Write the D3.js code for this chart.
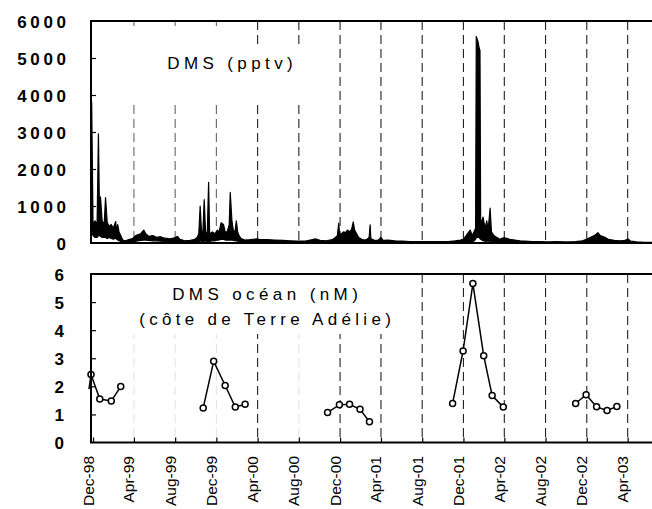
<!DOCTYPE html>
<html><head><meta charset="utf-8">
<script src="https://cdn.jsdelivr.net/npm/d3@7"></script>
<style>body{margin:0;background:#fff}svg{display:block;font-family:"Liberation Sans",Arial,sans-serif}</style>
</head><body>
<svg id="c" width="652" height="509"></svg>
<script>
// ---------- data ----------
const tickLabels = ["Dec-98","Apr-99","Aug-99","Dec-99","Apr-00","Aug-00","Dec-00","Apr-01","Aug-01","Dec-01","Apr-02","Aug-02","Dec-02","Apr-03"];
const tickDates = ["1998-12-01","1999-04-01","1999-08-01","1999-12-01","2000-04-01","2000-08-01","2000-12-01","2001-04-01","2001-08-01","2001-12-01","2002-04-01","2002-08-01","2002-12-01","2003-04-01"];
const airTicks = [0,1000,2000,3000,4000,5000,6000];
const oceanTicks = [0,1,2,3,4,5,6];

// atmospheric DMS (pptv): dense record, given as upper / lower envelope
const airDates = ["1998-11-27","1998-12-01","1998-12-07","1998-12-13","1998-12-17","1998-12-20","1998-12-23","1998-12-28","1999-01-03","1999-01-07","1999-01-12","1999-01-18","1999-01-24","1999-01-30","1999-02-06","1999-02-09","1999-02-12","1999-02-16","1999-02-21","1999-02-27","1999-03-07","1999-03-19","1999-03-28","1999-04-06","1999-04-12","1999-04-21","1999-04-30","1999-05-06","1999-05-15","1999-05-27","1999-06-08","1999-06-19","1999-07-01","1999-07-16","1999-07-28","1999-08-08","1999-08-15","1999-08-30","1999-09-14","1999-09-26","1999-10-05","1999-10-10","1999-10-14","1999-10-18","1999-10-22","1999-10-26","1999-10-30","1999-11-04","1999-11-08","1999-11-11","1999-11-19","1999-11-27","1999-12-04","1999-12-09","1999-12-15","1999-12-22","1999-12-27","2000-01-02","2000-01-08","2000-01-11","2000-01-16","2000-01-20","2000-01-25","2000-01-29","2000-02-02","2000-02-06","2000-02-12","2000-02-24","2000-03-09","2000-03-29","2000-04-08","2000-04-29","2000-05-22","2000-06-15","2000-07-06","2000-07-29","2000-08-20","2000-09-04","2000-09-19","2000-10-03","2000-10-21","2000-11-08","2000-11-17","2000-11-23","2000-11-27","2000-11-30","2000-12-05","2000-12-11","2000-12-17","2000-12-23","2000-12-29","2001-01-04","2001-01-09","2001-01-13","2001-01-19","2001-01-25","2001-02-03","2001-02-11","2001-02-19","2001-02-25","2001-02-28","2001-03-02","2001-03-11","2001-03-23","2001-04-01","2001-04-07","2001-04-22","2001-05-12","2001-06-02","2001-06-26","2001-07-25","2001-08-25","2001-09-23","2001-10-17","2001-11-07","2001-11-22","2001-12-01","2001-12-09","2001-12-21","2001-12-27","2002-01-01","2002-01-06","2002-01-08","2002-01-13","2002-01-16","2002-01-19","2002-01-21","2002-01-28","2002-02-03","2002-02-08","2002-02-12","2002-02-18","2002-02-22","2002-03-01","2002-03-10","2002-03-19","2002-03-29","2002-04-06","2002-04-17","2002-05-02","2002-05-17","2002-06-01","2002-06-22","2002-07-15","2002-08-09","2002-09-02","2002-09-28","2002-10-28","2002-11-18","2002-11-30","2002-12-11","2002-12-23","2003-01-03","2003-01-10","2003-01-22","2003-02-03","2003-02-20","2003-03-09","2003-03-24","2003-04-02","2003-04-10","2003-04-28","2003-05-22","2003-06-12"];
const airHigh = [3800,500,600,500,2950,900,1250,600,500,1230,550,450,500,400,580,300,500,300,200,80,60,100,120,200,220,250,350,250,180,200,150,170,130,110,130,180,100,60,70,90,150,250,1000,300,300,1170,300,250,1640,250,300,250,350,300,550,500,300,300,500,1370,600,350,300,600,300,200,120,80,90,110,90,90,80,70,60,50,50,80,110,70,60,90,150,200,535,200,250,300,280,350,300,370,570,350,250,150,100,80,100,150,490,120,80,70,150,70,80,60,50,40,40,35,40,40,60,80,100,200,350,200,300,400,5580,5450,5300,5200,500,700,400,600,350,940,300,200,150,100,140,130,100,80,60,50,40,35,30,35,30,40,60,100,150,200,280,200,160,100,70,60,70,110,50,30,20,20];
const airLow = [300,200,150,150,200,200,180,150,150,150,120,150,120,100,130,100,80,60,40,20,10,20,30,40,60,70,80,80,70,60,60,50,40,30,30,20,20,15,15,20,30,40,50,50,40,50,50,40,50,40,60,60,80,80,100,100,80,80,80,80,80,70,60,60,50,40,30,25,30,30,30,30,25,25,20,15,15,20,20,20,20,20,25,30,30,30,30,40,40,40,40,40,40,40,30,30,25,25,25,25,25,20,20,20,20,20,20,15,15,10,10,10,10,15,20,30,30,30,40,40,50,100,150,150,150,120,100,60,50,50,50,50,40,40,30,30,30,30,25,20,20,15,10,10,10,10,10,10,15,20,20,25,25,25,20,15,15,15,15,15,10,10,5,5];

// ocean DMS (nM), null = gap between summer campaigns
const oceanDates = ["1998-11-19","1998-11-25","1998-12-21","1999-01-24","1999-02-21",null,"1999-10-23","1999-11-23","1999-12-27","2000-01-26","2000-02-24",null,"2000-10-25","2000-11-29","2000-12-29","2001-01-29","2001-02-26",null,"2001-10-30","2001-11-30","2001-12-29","2002-01-30","2002-02-24","2002-03-29",null,"2002-10-29","2002-11-29","2002-12-30","2003-01-30","2003-02-28"];
const oceanValues = [1.9,2.42,1.55,1.48,1.99,null,1.23,2.89,2.03,1.26,1.36,null,1.07,1.34,1.36,1.18,0.74,null,1.39,3.26,5.66,3.09,1.67,1.26,null,1.39,1.70,1.27,1.14,1.28];

// ---------- drawing ----------
const parse = d3.utcParse("%Y-%m-%d");
const svg = d3.select("#c");
const x0 = parse("1998-11-25");
const x = d3.scaleUtc().domain([x0, parse("2003-06-12")]).range([91, 652]);
const yA = d3.scaleLinear().domain([0, 6000]).range([243, 21]);
const yO = d3.scaleLinear().domain([0, 6]).range([442.5, 274]);
const tickD = tickDates.map(parse);
const W = 652;

// ===== top panel =====
const gTop = svg.append("g");
gTop.selectAll("line.g").data(tickD.slice(1)).join("line")
  .attr("x1", d => x(d)).attr("x2", d => x(d))
  .attr("y1", yA(6000)).attr("y2", yA(0))
  .attr("stroke", (d, i) => i < 3 ? "#666" : "#222").attr("stroke-width", 1.1)
  .attr("stroke-dasharray", "9,5");
gTop.append("rect").attr("x", 128).attr("y", 26).attr("width", 126).attr("height", 74).attr("fill", "#fff");
gTop.append("rect").attr("x", 128).attr("y", 44).attr("width", 174).attr("height", 56).attr("fill", "#fff");
gTop.append("text").attr("x", 230 + 2.2).attr("y", 68.5).attr("text-anchor", "middle")
  .style("font-size", "17px").style("letter-spacing", "4.4px").text("DMS (pptv)");

const airData = airDates.map((d, i) => ({date: parse(d), high: airHigh[i], low: airLow[i]}));
gTop.append("path").datum(airData)
  .attr("d", d3.area().x(d => x(d.date)).y0(d => yA(d.low)).y1(d => yA(d.high)))
  .attr("fill", "#000").attr("stroke", "#000").attr("stroke-width", 1.2).attr("stroke-linejoin", "round");

gTop.append("path").attr("d", `M${W + 2},${yA(6000)}H${x.range()[0]}V${yA(0)}H${W + 2}`)
  .attr("fill", "none").attr("stroke", "#000").attr("stroke-width", 2);
const tA = gTop.append("g").attr("transform", `translate(${x.range()[0]},0)`)
  .call(d3.axisRight(yA).tickValues(airTicks.slice(1, -1)).tickSize(5).tickFormat(""));
tA.select(".domain").remove();
tA.selectAll("line").attr("stroke", "#000").attr("stroke-width", 1.2);
const lA = gTop.append("g").attr("transform", `translate(${x.range()[0]},0)`)
  .call(d3.axisLeft(yA).tickValues(airTicks).tickSize(0).tickPadding(21.5).tickFormat(d3.format("d")));
lA.select(".domain").remove();
lA.selectAll("text").attr("fill", "#000").attr("font-family", null)
  .style("font-size", "17px").style("font-weight", "bold").style("letter-spacing", "3.6px").attr("dy", "0.36em");

// ===== bottom panel =====
const gBot = svg.append("g");
const faint = new Set(["Apr-99", "Aug-99", "Dec-99", "Aug-00"]);
gBot.selectAll("line.g").data(tickD.slice(1)).join("line")
  .attr("x1", d => x(d)).attr("x2", d => x(d))
  .attr("y1", yO(6)).attr("y2", yO(0))
  .attr("stroke", (d, i) => faint.has(tickLabels[i + 1]) ? "#e4e4e4" : "#222").attr("stroke-width", 1.1)
  .attr("stroke-dasharray", "9,5");
gBot.append("rect").attr("x", 128).attr("y", 275).attr("width", 274).attr("height", 59).attr("fill", "#fff");
gBot.append("text").attr("x", 265 + 2.2).attr("y", 299.5).attr("text-anchor", "middle")
  .style("font-size", "17px").style("letter-spacing", "4.4px").text("DMS océan (nM)");
gBot.append("text").attr("x", 265 + 2.2).attr("y", 325).attr("text-anchor", "middle")
  .style("font-size", "17px").style("letter-spacing", "4.3px").text("(côte de Terre Adélie)");

const oceanData = oceanDates.map((d, i) => ({date: d ? parse(d) : null, value: oceanValues[i]}));
gBot.append("path").datum(oceanData)
  .attr("d", d3.line().defined(d => d.value != null).x(d => x(d.date)).y(d => yO(d.value)))
  .attr("fill", "none").attr("stroke", "#000").attr("stroke-width", 1.5);
gBot.selectAll("circle").data(oceanData.filter(d => d.value != null && d.date >= x0)).join("circle")
  .attr("cx", d => x(d.date)).attr("cy", d => yO(d.value)).attr("r", 3)
  .attr("fill", "#fff").attr("stroke", "#000").attr("stroke-width", 1.5);

gBot.append("path").attr("d", `M${W + 2},${yO(6)}H${x.range()[0]}V${yO(0)}H${W + 2}`)
  .attr("fill", "none").attr("stroke", "#000").attr("stroke-width", 2);
const tO = gBot.append("g").attr("transform", `translate(${x.range()[0]},0)`)
  .call(d3.axisRight(yO).tickValues(oceanTicks.slice(1, -1)).tickSize(5).tickFormat(""));
tO.select(".domain").remove();
tO.selectAll("line").attr("stroke", "#000").attr("stroke-width", 1.2);
const lO = gBot.append("g").attr("transform", `translate(${x.range()[0]},0)`)
  .call(d3.axisLeft(yO).tickValues(oceanTicks).tickSize(0).tickPadding(27).tickFormat(d3.format("d")));
lO.select(".domain").remove();
lO.selectAll("text").attr("fill", "#000").attr("font-family", null)
  .style("font-size", "17px").style("font-weight", "bold").attr("dy", "0.36em");

const tx = gBot.append("g").attr("transform", `translate(0,${yO(0)})`)
  .call(d3.axisTop(x).tickValues(tickD).tickSize(5).tickFormat(""));
tx.select(".domain").remove();
tx.selectAll("line").attr("stroke", "#000").attr("stroke-width", 1.2);
const lx = svg.append("g").attr("transform", "translate(0,456)")
  .call(d3.axisBottom(x).tickValues(tickD).tickSize(0).tickFormat((d, i) => tickLabels[i]));
lx.select(".domain").remove();
lx.selectAll("text").attr("fill", "#000").attr("font-family", null)
  .attr("transform", "rotate(-90)").attr("text-anchor", "end")
  .attr("x", 0).attr("y", 0).attr("dy", "0").style("font-size", "15.5px");
</script>
</body></html>
